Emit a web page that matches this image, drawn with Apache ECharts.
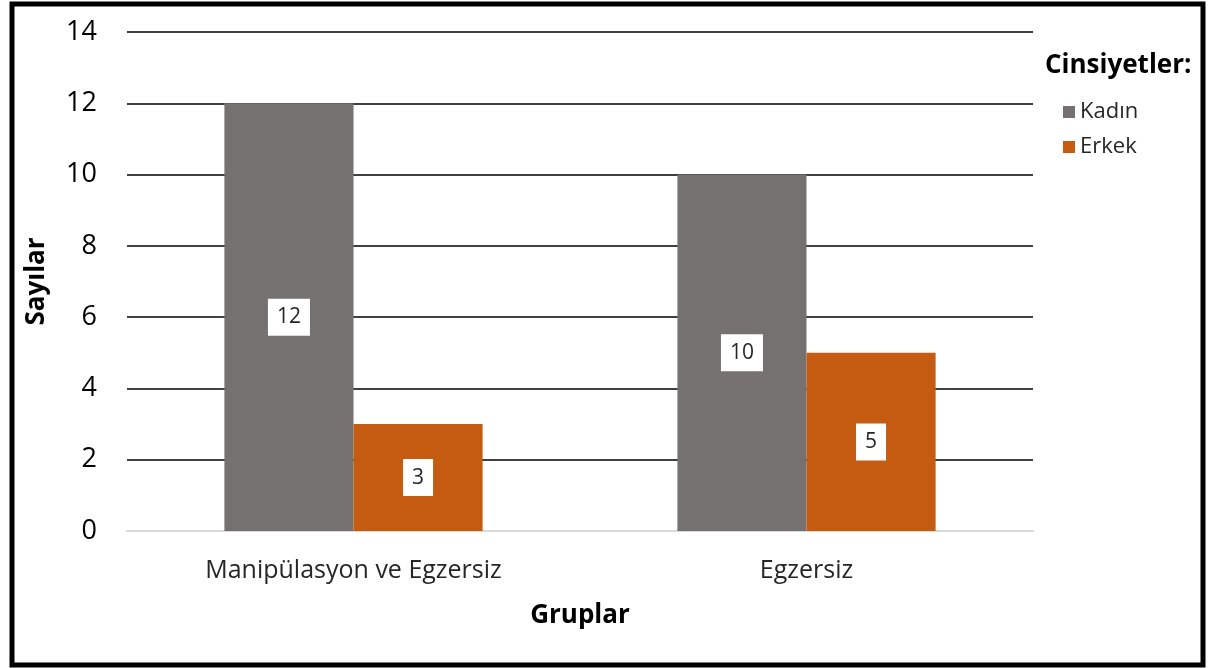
<!DOCTYPE html>
<html>
<head>
<meta charset="utf-8">
<script src="https://cdn.jsdelivr.net/npm/echarts@6/dist/echarts.min.js"></script>
<style>
  html, body { margin: 0; padding: 0; background: #fff; }
  #chart { width: 1218px; height: 668px; }
</style>
</head>
<body>
<div id="chart"></div>
<script>
const categories = ['Manipülasyon ve Egzersiz', 'Egzersiz'];
const kadin = [12, 10];
const erkek = [3, 5];
const yTicks = { min: 0, max: 14, interval: 2 };

const font = '"Open Sans", "Noto Sans", sans-serif';

const labelStyle = {
    show: true,
    position: 'inside',
    color: '#262626',
    fontFamily: font,
    fontSize: 21,
    backgroundColor: '#fff',
    padding: [8, 9, 8, 9]
};

const myChart = echarts.init(document.getElementById('chart'));
myChart.setOption({
    backgroundColor: '#fff',
    animation: false,
    textStyle: { fontFamily: font },
    title: {
        text: 'Cinsiyetler:',
        left: 1040,
        top: 48,
        textStyle: { fontFamily: font, fontSize: 26, fontWeight: 'bold', color: '#000' }
    },
    legend: {
        orient: 'vertical',
        left: 1058,
        top: 96,
        itemWidth: 12,
        itemHeight: 12,
        itemGap: 13,
        icon: 'rect',
        textStyle: { fontFamily: font, fontSize: 22, color: '#262626' }
    },
    grid: { left: 127, right: 185, top: 32, bottom: 137 },
    xAxis: {
        type: 'category',
        data: categories,
        name: 'Gruplar',
        nameLocation: 'middle',
        nameGap: 72,
        nameTextStyle: { fontFamily: font, fontSize: 26, fontWeight: 'bold', color: '#000' },
        axisLine: { lineStyle: { color: '#d9d9d9', width: 2 } },
        axisTick: { show: false },
        axisLabel: { margin: 27, fontFamily: font, fontSize: 25, color: '#262626' }
    },
    yAxis: {
        type: 'value',
        min: yTicks.min,
        max: yTicks.max,
        interval: yTicks.interval,
        name: 'Sayılar',
        nameLocation: 'middle',
        nameGap: 77,
        nameTextStyle: { fontFamily: font, fontSize: 26, fontWeight: 'bold', color: '#000' },
        axisLine: { show: false },
        axisTick: { show: false },
        axisLabel: { margin: 30, fontFamily: font, fontSize: 27, color: '#000' },
        splitLine: { lineStyle: { color: '#404040', width: 2 } }
    },
    series: [
        {
            name: 'Kadın',
            type: 'bar',
            data: kadin,
            barGap: '0%',
            barCategoryGap: '43%',
            itemStyle: { color: '#767171' },
            label: labelStyle
        },
        {
            name: 'Erkek',
            type: 'bar',
            data: erkek,
            itemStyle: { color: '#C55A11' },
            label: labelStyle
        }
    ],
    graphic: [{
        type: 'rect',
        shape: { x: 12, y: 4, width: 1191, height: 661 },
        style: { fill: 'none', stroke: '#000', lineWidth: 5 },
        silent: true
    }]
});
</script>
</body>
</html>
